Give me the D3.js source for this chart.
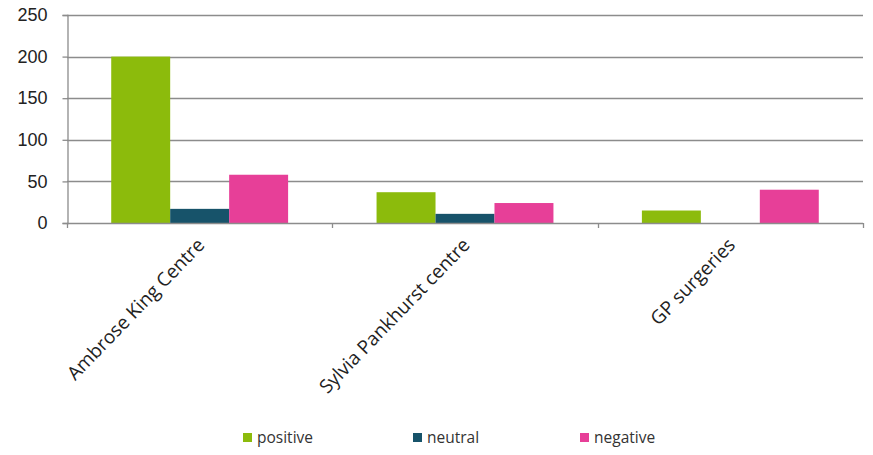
<!DOCTYPE html>
<html lang="en">
<head>
  <meta charset="UTF-8" />
  <title>Feedback by location</title>
  <script src="https://d3js.org/d3.v7.min.js"></script>
  <style>
    body {
      margin: 0;
      background: #fff;
      font-family: "Open Sans", sans-serif;
    }
    .grid line {
      stroke: #8c8c8c;
      stroke-width: 1.3px;
    }
    .axis text {
      fill: #222;
      font-size: 18px;
    }
    .axis text.cl {
      font-size: 19px;
    }
    .legend text {
      fill: #333;
      font-size: 15.5px;
    }
  </style>
</head>
<body>
  <svg id="chart" width="873" height="455"></svg>

  <script>
    const categories = ["Ambrose King Centre", "Sylvia Pankhurst centre", "GP surgeries"];
    const seriesNames = ["positive", "neutral", "negative"];
    const positive = [200, 37, 15];
    const neutral = [17, 11, 0];
    const negative = [58, 24, 40];
    const yTicks = [0, 50, 100, 150, 200, 250];

    const colors = ["#8cbb0c", "#17536a", "#e73f98"];
    const values = [positive, neutral, negative];

    const svg = d3.select("#chart");
    const plotLeft = 67, plotRight = 863, plotTop = 15, plotBottom = 223;

    const x0 = d3.scaleBand().domain(categories).range([plotLeft, plotRight]).padding(0);
    const x1 = d3.scaleBand().domain(seriesNames)
      .range([0, x0.bandwidth()])
      .paddingInner(0)
      .paddingOuter(0.75);
    const y = d3.scaleLinear().domain([0, 250]).range([plotBottom, plotTop]);

    // gridlines
    svg.append("g").attr("class", "grid")
      .selectAll("line")
      .data(yTicks.filter(d => d > 0))
      .enter().append("line")
      .attr("x1", plotLeft).attr("x2", plotRight)
      .attr("y1", d => Math.round(y(d)) + 0.5)
      .attr("y2", d => Math.round(y(d)) + 0.5);

    // bars
    const rows = categories.map((c, i) => ({ cat: c, vals: seriesNames.map((s, j) => ({ s, v: values[j][i], c: colors[j] })) }));
    svg.append("g").selectAll("g")
      .data(rows)
      .enter().append("g")
      .attr("transform", d => `translate(${x0(d.cat)},0)`)
      .selectAll("rect")
      .data(d => d.vals)
      .enter().append("rect")
      .attr("x", d => x1(d.s))
      .attr("width", x1.bandwidth())
      .attr("y", d => y(d.v))
      .attr("height", d => y(0) - y(d.v))
      .attr("fill", d => d.c);

    // y axis
    const yAxis = d3.axisLeft(y).tickValues(yTicks).tickSize(5).tickPadding(15);
    const gy = svg.append("g").attr("class", "axis")
      .attr("transform", `translate(${plotLeft + 0.5},0)`)
      .call(yAxis);
    gy.select(".domain").attr("stroke", "#8c8c8c").attr("stroke-width", 1.3);
    gy.selectAll(".tick line").attr("stroke", "#8c8c8c").attr("stroke-width", 1.3);
    gy.selectAll(".tick text").attr("font-size", null).attr("font-family", null);

    // x axis baseline with category boundary ticks
    const gx = svg.append("g").attr("class", "axis");
    gx.append("line")
      .attr("x1", plotLeft).attr("x2", plotRight)
      .attr("y1", Math.round(y(0)) + 0.5).attr("y2", Math.round(y(0)) + 0.5)
      .attr("stroke", "#8c8c8c").attr("stroke-width", 1.3);
    const bounds = categories.map(c => x0(c)).concat([plotRight]);
    gx.selectAll(".bt")
      .data(bounds)
      .enter().append("line")
      .attr("x1", d => Math.round(d) + 0.5).attr("x2", d => Math.round(d) + 0.5)
      .attr("y1", y(0)).attr("y2", y(0) + 5)
      .attr("stroke", "#8c8c8c").attr("stroke-width", 1.3);

    gx.selectAll(".cl")
      .data(categories)
      .enter().append("text")
      .attr("class", "cl")
      .attr("transform", d => `translate(${x0(d) + x0.bandwidth() / 2 + 6},${y(0) + 23}) rotate(-46)`)
      .attr("text-anchor", "end")
      .text(d => d);

    // legend
    const legendX = [243, 413, 580];
    const lg = svg.append("g").attr("class", "legend");
    const items = lg.selectAll("g")
      .data(seriesNames)
      .enter().append("g")
      .attr("transform", (d, i) => `translate(${legendX[i]},433)`);
    items.append("rect")
      .attr("width", 9).attr("height", 9)
      .attr("fill", (d, i) => colors[i]);
    items.append("text")
      .attr("x", 14).attr("y", 10)
      .text(d => d);
  </script>
</body>
</html>
